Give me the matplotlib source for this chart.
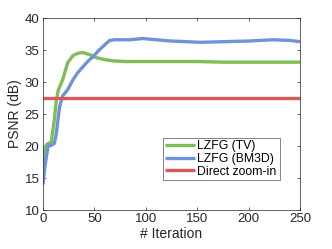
import matplotlib
matplotlib.use('Agg')
import matplotlib.pyplot as plt
import numpy as np

plt.rcParams['font.family'] = ['Liberation Sans', 'DejaVu Sans']

# 읽어낸 값 (iteration, PSNR)
ITER_TV = [0, 2, 4, 8, 11, 13, 15, 19, 24, 29, 34, 39, 45, 52, 60, 68, 80, 100, 125, 150, 175, 200, 225, 250]
PSNR_TV = [17.0, 19.8, 20.3, 20.6, 24.0, 27.2, 28.8, 30.3, 33.0, 34.1, 34.5, 34.6, 34.3, 33.8, 33.5, 33.3, 33.2, 33.2, 33.2, 33.2, 33.1, 33.1, 33.1, 33.1]

ITER_BM = [0, 2, 5, 8, 11, 13, 16, 19, 24, 29, 34, 39, 44, 49, 54, 58, 62, 65, 70, 75, 85, 97, 110, 125, 140, 153, 175, 200, 224, 240, 250]
PSNR_BM = [14.0, 17.0, 20.0, 20.1, 20.4, 22.0, 26.0, 27.8, 28.8, 30.3, 31.5, 32.4, 33.3, 34.0, 34.9, 35.5, 36.1, 36.5, 36.6, 36.6, 36.6, 36.8, 36.6, 36.4, 36.3, 36.2, 36.3, 36.4, 36.6, 36.5, 36.3]

ITER_DZ = [0, 250]
PSNR_DZ = [27.5, 27.5]

LABELS = ['LZFG (TV)', 'LZFG (BM3D)', 'Direct zoom-in']

fig = plt.figure(figsize=(3.32, 2.49), dpi=100)
ax = fig.add_axes([0.1295, 0.1566, 0.7741, 0.7711])

ax.plot(ITER_TV, PSNR_TV, color='#7EBE55', lw=2.4, label=LABELS[0], solid_capstyle='butt')
ax.plot(ITER_BM, PSNR_BM, color='#6E94D8', lw=2.4, label=LABELS[1], solid_capstyle='butt')
ax.plot(ITER_DZ, PSNR_DZ, color='#D65A5A', lw=2.4, label=LABELS[2], solid_capstyle='butt', clip_on=False)

ax.set_xlim(0, 250)
ax.set_ylim(10, 40)
ax.set_xticks([0, 50, 100, 150, 200, 250])
ax.set_yticks([10, 15, 20, 25, 30, 35, 40])
ax.tick_params(direction='in', top=True, right=True, length=2.5, width=0.5,
               labelsize=9.5, colors='#262626', pad=2.5)
for s in ax.spines.values():
    s.set_linewidth(0.5)
    s.set_color('#262626')

ax.set_xlabel('# Iteration', fontsize=10, color='#262626', labelpad=1)
ax.set_ylabel('PSNR (dB)', fontsize=10, color='#262626', labelpad=2)

leg = ax.legend(loc='lower left', bbox_to_anchor=(0.467, 0.156, 0.455, 0.24), mode='expand',
                fontsize=8.8, frameon=True, fancybox=False, borderpad=0.2,
                handlelength=2.4, handletextpad=0.2, labelspacing=0.05, borderaxespad=0)
leg.get_frame().set_edgecolor('#262626')
leg.get_frame().set_linewidth(0.5)

plt.savefig('out.png', dpi=100)
